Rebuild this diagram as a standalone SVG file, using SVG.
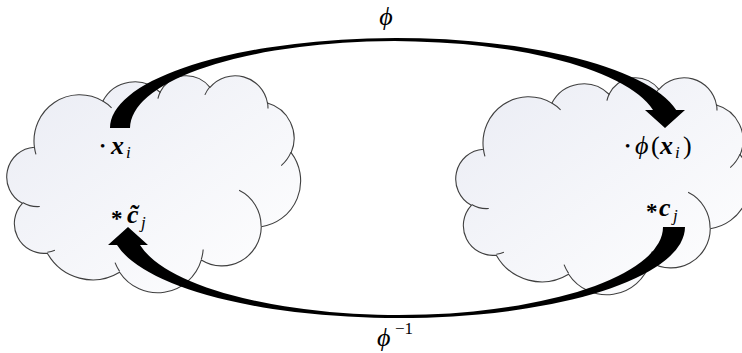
<svg xmlns="http://www.w3.org/2000/svg" xmlns:xlink="http://www.w3.org/1999/xlink" width="742" height="353" viewBox="0 0 742 353">
<style>
.cloud{fill:url(#cloudGrad);stroke:#3f3f3f;stroke-width:1.1}
.inner{fill:none;stroke:#3f3f3f;stroke-width:1.1}
.arrow{fill:#000;stroke:none}
text{font-family:"Liberation Serif","Times New Roman",serif;fill:#000}
.bi{font-weight:bold;font-style:italic}
.it{font-style:italic}
</style>
<defs>
<linearGradient id="cloudGrad" x1="0" y1="0" x2="1" y2="1">
<stop offset="0" stop-color="#eaecf4"/>
<stop offset="1" stop-color="#ffffff"/>
</linearGradient>
<path id="cloudShape" d="M26.41,72.18 A45.72,46.16 0 0 1 94.83,26.13 A36.11,36.50 0 0 1 152.04,17.24 A29.55,29.86 0 0 1 201.99,12.45 A32.89,33.13 0 0 1 259.44,28.00 A36.11,36.53 0 0 1 283.14,77.65 A45.87,46.31 0 0 1 253.26,151.71 A39.17,39.52 0 0 1 193.35,184.92 A45.72,46.29 0 0 1 111.59,197.24 A52.27,52.96 0 0 1 39.31,178.18 A29.52,29.73 0 0 1 14.31,128.34 A29.42,29.86 0 0 1 26.41,72.18 Z"/>
<path id="cloudInner" d="M31.78,131.49 A29.42,29.86 0 0 1 14.62,127.49 M46.91,175.30 A29.52,29.73 0 0 1 39.41,177.22 M111.57,196.35 A45.72,46.29 0 0 1 107.05,187.60 M195.18,174.56 A45.72,46.29 0 0 1 193.37,184.15 M231.08,115.30 A39.17,39.52 0 0 1 253.09,151.14 M283.01,77.12 A36.11,36.53 0 0 1 273.20,90.57 M259.48,27.26 A32.89,33.13 0 0 1 260.00,33.60 M196.88,19.85 A32.89,33.13 0 0 1 201.91,11.75 M149.91,23.71 A29.55,29.86 0 0 1 152.34,16.73 M94.79,26.08 A45.72,46.16 0 0 1 103.59,32.85 M27.94,79.31 A45.72,46.16 0 0 1 26.41,72.18"/>
</defs>

<g id="cloud-left">
<use xlink:href="#cloudShape" href="#cloudShape" class="cloud" transform="translate(8,75)"/>
<use xlink:href="#cloudInner" href="#cloudInner" class="inner" transform="translate(8,75)"/>
<text font-size="26"><tspan x="100" y="151" font-size="15">•</tspan><tspan x="111" y="154" class="bi">x</tspan><tspan x="126" y="158" class="it" font-size="17">i</tspan></text>
<text font-size="26"><tspan x="111" y="226" font-weight="bold" font-size="23">*</tspan><tspan x="127" y="223" class="bi">c̃</tspan><tspan x="141" y="228" class="it" font-size="17">j</tspan></text>
</g>

<g id="cloud-right">
<use xlink:href="#cloudShape" href="#cloudShape" class="cloud" transform="translate(457,77)"/>
<use xlink:href="#cloudInner" href="#cloudInner" class="inner" transform="translate(457,77)"/>
<text font-size="26"><tspan x="625" y="151" font-size="15">•</tspan><tspan x="635" y="154" class="it">ϕ</tspan><tspan x="651" y="154">(</tspan><tspan x="660" y="154" class="bi">x</tspan><tspan x="675" y="158" class="it" font-size="17">i</tspan><tspan x="683" y="154">)</tspan></text>
<text font-size="26"><tspan x="646" y="219" font-weight="bold" font-size="23">*</tspan><tspan x="659" y="216" class="bi">c</tspan><tspan x="673" y="221" class="it" font-size="17">j</tspan></text>
</g>

<g id="connectors">
<path class="arrow" d="M110,128 A286,90 0 0 1 676.2,110 L685,110 L665,128 L645,110 L653,110 A264.4,87 0 0 0 130,128 Z"/>
<path class="arrow" d="M685,227 A286.8,91 0 0 1 117,245 L108,245 L128,227 L148,245 L140,245 A264.3,88 0 0 0 663,227 Z"/>
<text x="386" y="25" font-size="26" class="it" text-anchor="middle">ϕ</text>
<text font-size="26"><tspan x="377" y="346" class="it">ϕ</tspan><tspan x="395" y="334" font-size="17">−1</tspan></text>
</g>
</svg>
